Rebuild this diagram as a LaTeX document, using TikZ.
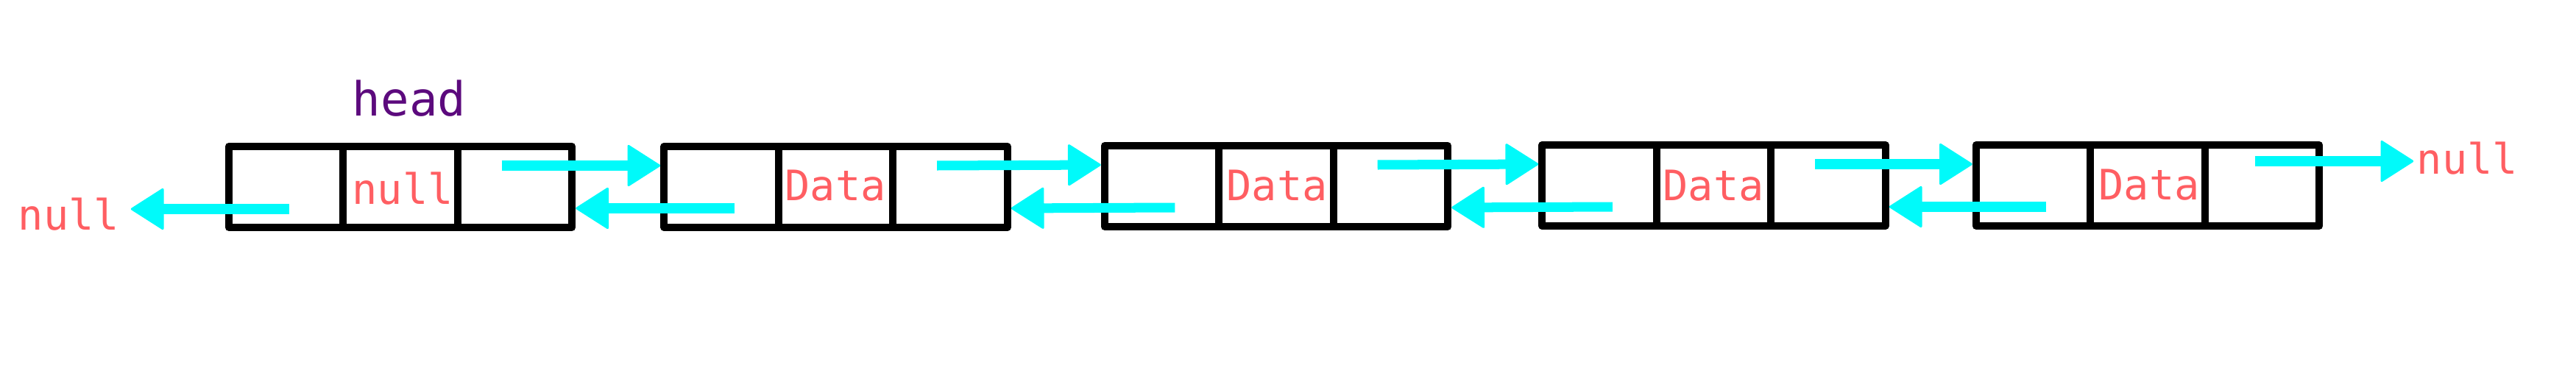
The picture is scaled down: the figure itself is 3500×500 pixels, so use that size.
\documentclass[tikz,border=0pt]{standalone}
\usepackage{fontspec}
\newfontfamily\monofont{DejaVu Sans Mono}
\usetikzlibrary{arrows.meta,calc}
\definecolor{nodered}{RGB}{255,94,98}
\definecolor{headpurple}{RGB}{92,10,125}
\definecolor{linkcyan}{RGB}{0,250,250}
\begin{document}
\begin{tikzpicture}[x=0.01cm,y=-0.01cm,
  cell/.style={draw=black, line width=0.1cm, minimum width=1.555cm,
    minimum height=1.10cm, inner sep=0pt, line join=round},
  lbl/.style={text=nodered, font=\monofont\fontsize{16.2pt}{18pt}\selectfont,
    inner sep=0pt, anchor=base},
  headlbl/.style={text=headpurple, font=\monofont\fontsize{18.2pt}{20pt}\selectfont,
    inner sep=0pt, anchor=base},
  link/.style={draw=linkcyan, line width=0.13cm,
    -{Triangle[round,length=0.46cm,width=0.58cm,line width=0.03cm]}}]
\useasboundingbox (0,0) rectangle (3500,500);

% list nodes
\foreach \i/\cx/\cy in {1/544/254, 2/1135.5/254, 3/1734/253, 4/2328.5/252, 5/2918/252} {
  \node[cell] (L\i) at (\cx-155.5,\cy) {};
  \node[cell] (M\i) at (\cx,\cy) {};
  \node[cell] (R\i) at (\cx+155.5,\cy) {};
}

% texts
\node[headlbl] (head) at (556,157) {head};
\node[lbl] (nullM) at (547,277) {null};
\foreach \i/\cx/\cy in {2/1135/272, 3/1735/272, 4/2328/272, 5/2920/271} {
  \node[lbl] (D\i) at (\cx,\cy) {Data};
}
\node[lbl, inner xsep=0.15cm] (nullL) at (93.5,312) {null};
\node[lbl, inner xsep=0.04cm] (nullR) at (3352.5,236) {null};

% links between nodes
\foreach \i/\j in {1/2, 2/3, 3/4, 4/5} {
  \draw[link] ($(R\i.west)+(65,-29)$) -- ($(L\j.west)+(0,-29)$);
  \draw[link] ($(L\j.east)+(-65,29)$) -- ($(R\i.east)+(0,29)$);
}

% end links to null
\coordinate (startL) at ($(L1.west)+(87,30)$);
\draw[link] (startL) -- (startL -| nullL.east);
\coordinate (startR) at ($(R5.west)+(73,-33)$);
\draw[link] (startR) -- (startR -| nullR.west);
\end{tikzpicture}
\end{document}
